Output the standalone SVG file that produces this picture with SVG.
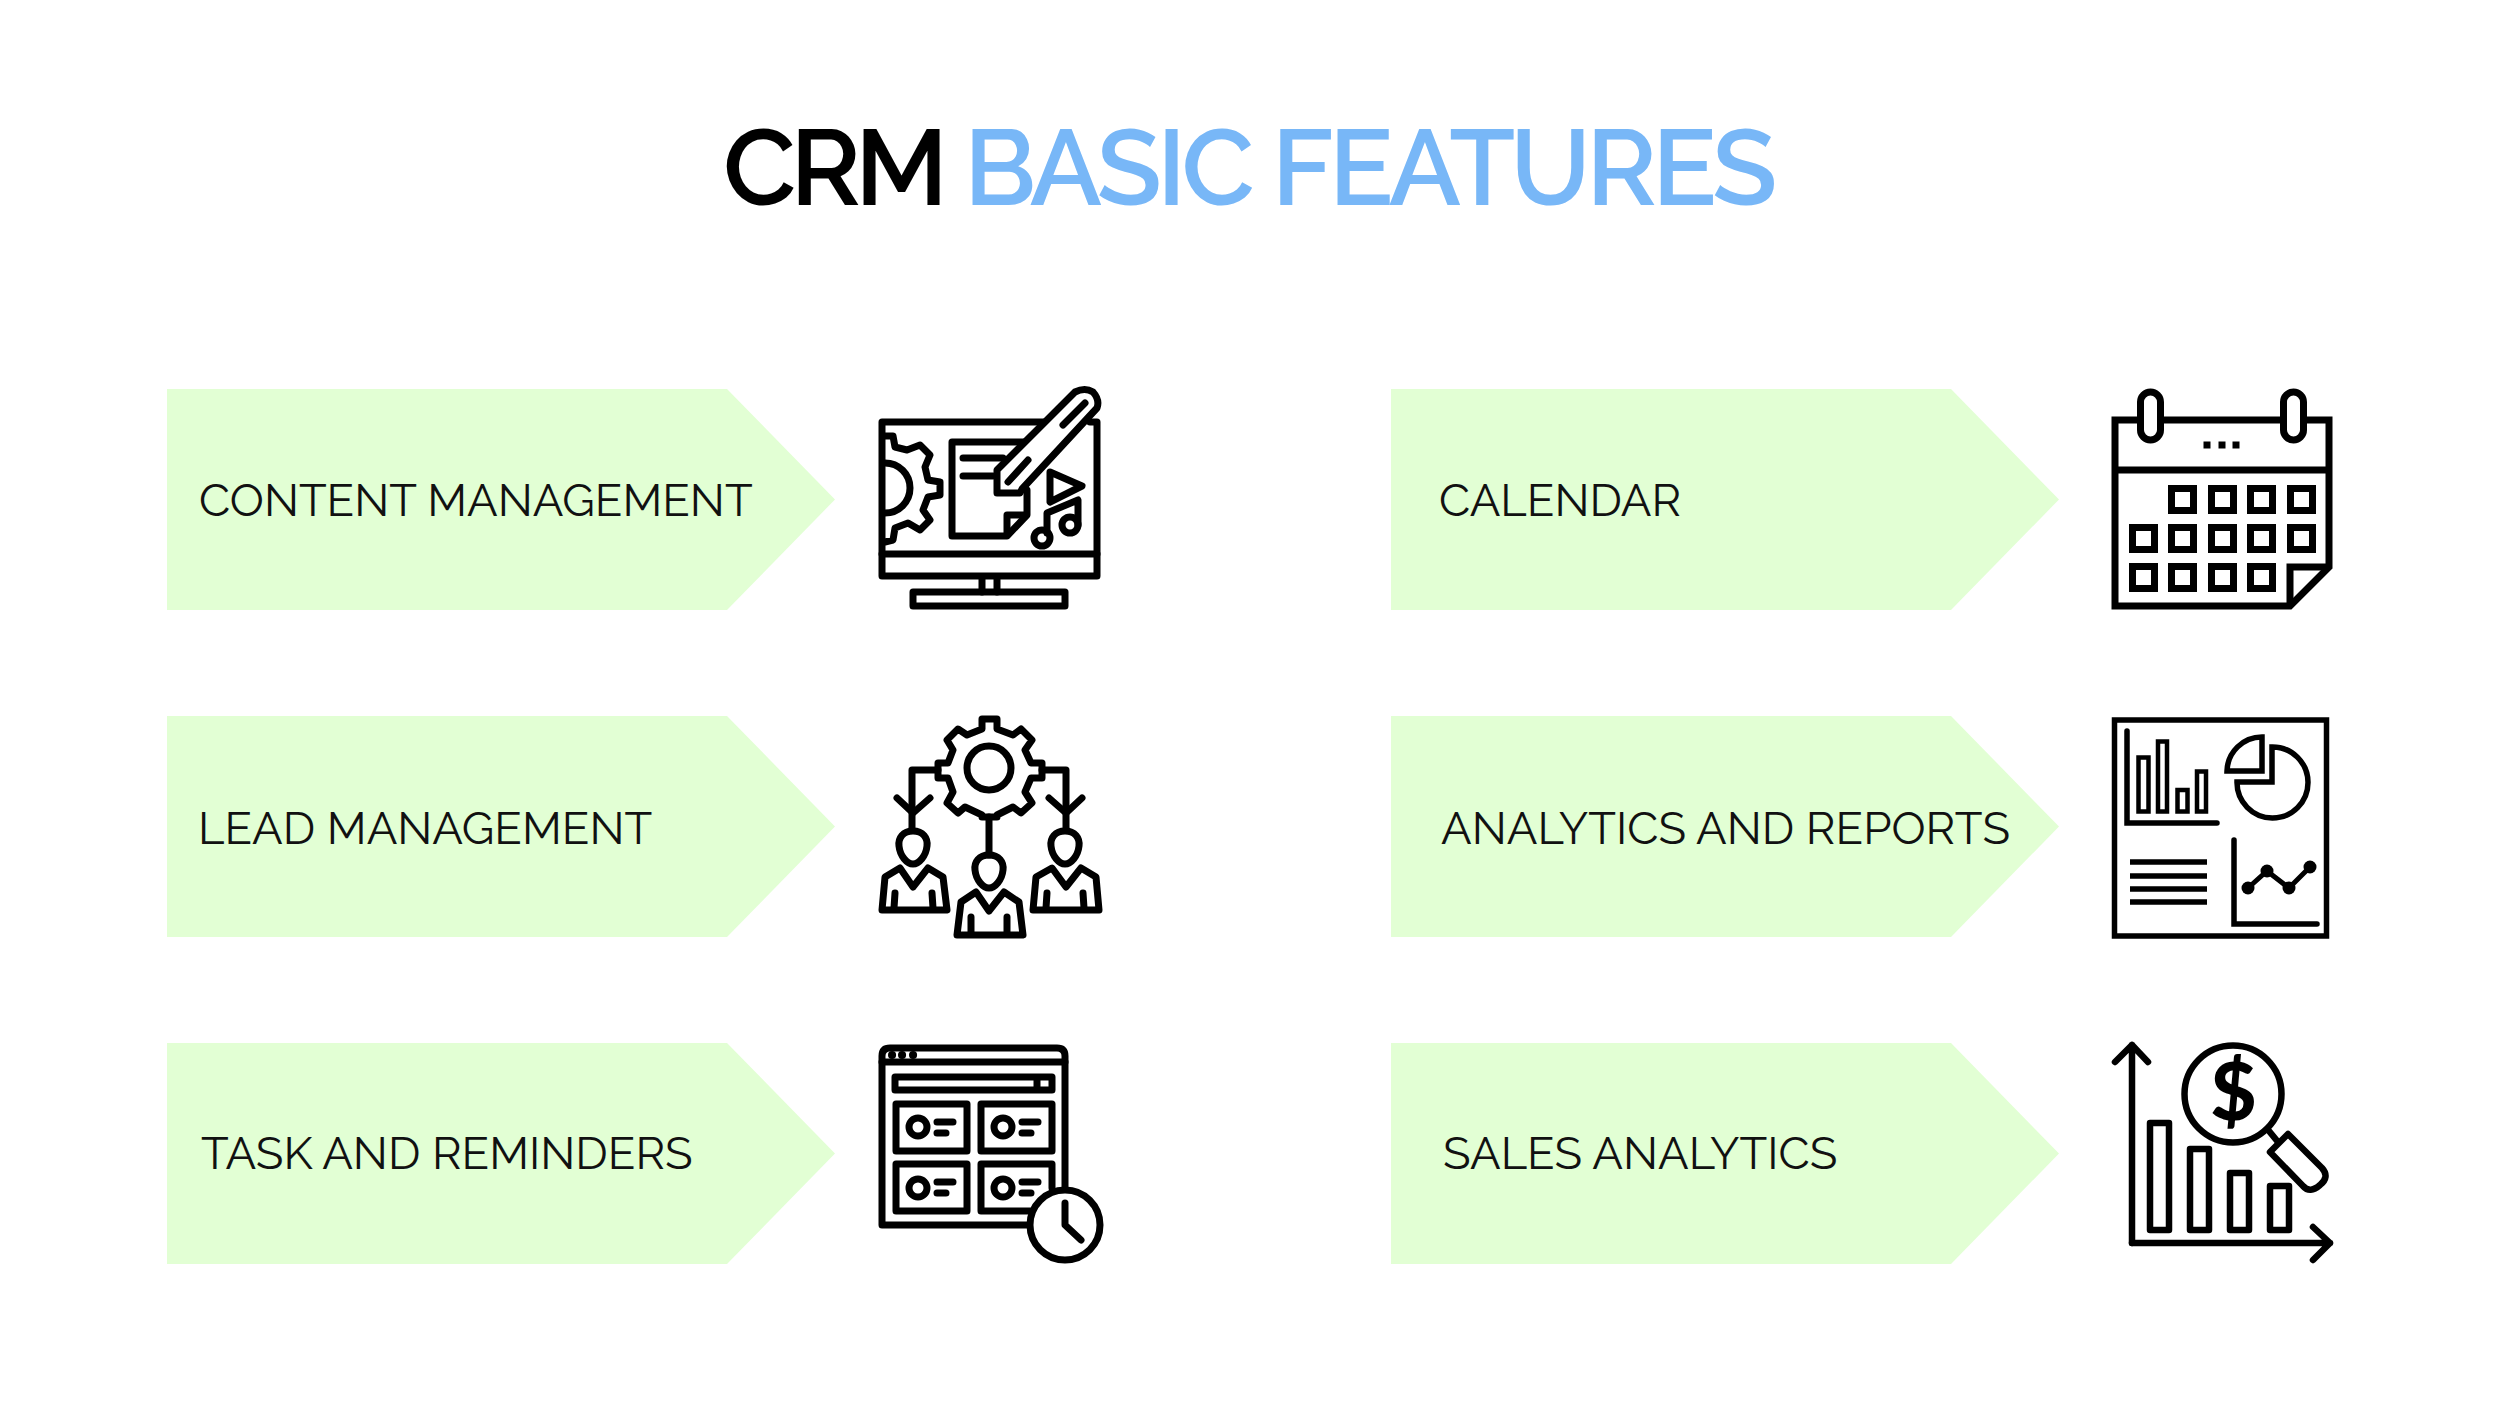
<svg xmlns="http://www.w3.org/2000/svg" width="2500" height="1406" viewBox="0 0 2500 1406">
<defs><style>
.t{font-family:"Raleway","Lato","Noto Sans",sans-serif}
.title{font-size:107px;font-weight:600;letter-spacing:-6px}
.lab{font-size:45.4px;fill:#111}
.arr{fill:#e2ffd4}
.i{fill:none;stroke:#000;stroke-width:7;stroke-linejoin:round;stroke-linecap:round}
.m{stroke-linejoin:miter;stroke-linecap:butt}
</style></defs>
<rect width="2500" height="1406" fill="#fff"/>
<g id="title"><text class="t title" x="723" y="205" fill="#000">CRM</text><text class="t title" x="964" y="205" fill="#78b7f7" style="letter-spacing:-4.700px">BASIC FEATURES</text></g>
<g id="n1"><path class="arr" d="M167 389H727L835 499.500L727 610H167Z"/><text class="t lab" x="199" y="516">CONTENT MANAGEMENT</text></g>
<g id="n2"><path class="arr" d="M167 716H727L835 826.500L727 937H167Z"/><text class="t lab" x="198" y="844">LEAD MANAGEMENT</text></g>
<g id="n3"><path class="arr" d="M167 1043H727L835 1153.500L727 1264H167Z"/><text class="t lab" x="201" y="1169">TASK AND REMINDERS</text></g>
<g id="n4"><path class="arr" d="M1391 389H1951L2059 499.500L1951 610H1391Z"/><text class="t lab" x="1439" y="516">CALENDAR</text></g>
<g id="n5"><path class="arr" d="M1391 716H1951L2059 826.500L1951 937H1391Z"/><text class="t lab" x="1441" y="844">ANALYTICS AND REPORTS</text></g>
<g id="n6"><path class="arr" d="M1391 1043H1951L2059 1153.500L1951 1264H1391Z"/><text class="t lab" x="1443" y="1169">SALES ANALYTICS</text></g>

<g id="icon-content" class="i">
<path d="M1047 422H882V576H1097V422H1090"/><path d="M882 554H1097"/><path d="M982 578V592M997 578V592"/><rect x="913" y="592" width="152" height="14"/>
<path d="M885 436H893L895 447L907 450L920 445L930 455L925 467L928 480L940 482V495L928 497L923 510L930 520L920 530L908 523L895 528L893 540L885 542"/>
<path d="M885 463A25 25 0 0 1 885 513"/>
<path d="M1027 442H952V536H1007L1027 515V490"/><path d="M1007 534V515H1025"/>
<path d="M963 458H1003M963 476H993"/>
<path d="M997 470L1075 392Q1085 387 1093 392Q1100 400 1097 408L1022 489L1020 493H997Z" fill="#fff"/>
<path d="M1008 482L1028 460M1063 425L1085 403"/>
<path d="M1050 472L1082 486L1050 502Z"/>
<path d="M1047 533V513L1078 500V525"/><circle cx="1042" cy="538" r="8"/><circle cx="1070" cy="525" r="8"/>
</g>

<g id="icon-lead" class="i">
<path d="M982 719H997V729L1013 735L1021 729L1032 740L1025 750L1031 763H1042V778H1031L1025 792L1032 803L1021 813L1013 807L997 815V817H982V815L965 807L958 813L947 803L953 792L948 778H938V763H948L953 750L947 740L958 729L967 735L982 729Z"/>
<circle cx="989" cy="768" r="22"/>
<path d="M938 770H912V830M1042 770H1066V830M989 817V855"/>
<path d="M897 798L913 813L930 798M1049 798L1066 813L1082 798"/>
<path d="M913 831C903 831 898 838 899 846C900 856 907 864 913 864C919 864 926 856 927 846C928 838 923 831 913 831Z"/>
<path d="M989 855C979 855 974 862 975 870C976 880 983 888 989 888C995 888 1002 880 1003 870C1004 862 999 855 989 855Z"/>
<path d="M1065 831C1055 831 1050 838 1051 846C1052 856 1059 864 1065 864C1071 864 1078 856 1079 846C1080 838 1075 831 1065 831Z"/>
<path d="M882 910L885 877L900 868L913 887L928 868L943 877L947 910Z"/><path d="M895 893L894 908M932 893L933 908"/>
<path d="M957 935L961 902L976 892L989 911L1004 892L1019 902L1023 935Z"/><path d="M971 917V933M1007 917V933"/>
<path d="M1033 910L1036 877L1052 868L1066 887L1081 868L1096 877L1099 910Z"/><path d="M1047 893L1046 908M1083 893L1084 908"/>
</g>

<g id="icon-task" class="i">
<path d="M1030 1225H882V1056Q882 1048 890 1048H1057Q1065 1048 1065 1056V1188"/><path d="M882 1062H1065"/>
<rect x="895" y="1077" width="157" height="13"/><path d="M1037 1077V1090" style="stroke-linecap:butt"/>
<rect x="896" y="1104" width="71" height="47"/><rect x="981" y="1104" width="71" height="47"/>
<rect x="896" y="1164" width="71" height="47"/><path d="M1030 1211H981V1164H1052V1188"/>
<circle cx="918" cy="1127" r="9"/><circle cx="1003" cy="1127" r="9"/><circle cx="918" cy="1188" r="9"/><circle cx="1003" cy="1188" r="9"/>
<path d="M937 1122H953M937 1133H946M1022 1122H1038M1022 1133H1031M937 1182H953M937 1193H946M1022 1182H1038M1022 1193H1031"/>
<circle cx="1065" cy="1225" r="35" fill="#fff"/><path d="M1065 1203V1225L1081 1240"/>
<path d="M892 1055h.1M902 1055h.1M913 1055h.1" stroke-width="8"/>
</g>

<g id="icon-calendar" class="i m">
<path d="M2137 420H2115V606H2290L2329 567V420H2307M2164 420H2280"/><path d="M2115 470H2329"/>
<rect x="2140.500" y="392" width="20" height="48" rx="10" fill="#fff"/><rect x="2283.500" y="392" width="20" height="48" rx="10" fill="#fff"/>
<path d="M2290 606V567H2329"/>
<rect x="2171.500" y="488.500" width="22" height="22"/><rect x="2211.500" y="488.500" width="22" height="22"/><rect x="2250.500" y="488.500" width="22" height="22"/><rect x="2290.500" y="488.500" width="22" height="22"/>
<rect x="2132.500" y="527.500" width="22" height="22"/><rect x="2171.500" y="527.500" width="22" height="22"/><rect x="2211.500" y="527.500" width="22" height="22"/><rect x="2250.500" y="527.500" width="22" height="22"/><rect x="2290.500" y="527.500" width="22" height="22"/>
<rect x="2132.500" y="566.500" width="22" height="22"/><rect x="2171.500" y="566.500" width="22" height="22"/><rect x="2211.500" y="566.500" width="22" height="22"/><rect x="2250.500" y="566.500" width="22" height="22"/>
<path d="M2203.500 445h7M2218.500 445h7M2232.500 445h7"/>
</g>

<g id="icon-reports" class="i m">
<rect x="2114.500" y="720" width="212" height="216" stroke-width="5.500"/>
<path d="M2127 731V823H2217" stroke-width="5.500" style="stroke-linecap:round"/>
<rect x="2138.500" y="757.500" width="10" height="54" stroke-width="4.500"/><rect x="2158" y="741.500" width="9" height="70" stroke-width="4.500"/><rect x="2177.500" y="790" width="10" height="21.500" stroke-width="4.500"/><rect x="2197" y="771.500" width="9" height="40" stroke-width="4.500"/>
<path d="M2262 737V771H2227A35 35 0 0 1 2262 737Z" stroke-width="5.500"/>
<path d="M2272 747V782H2237A35.500 35.500 0 1 0 2272 747Z" stroke-width="5.500"/>
<path d="M2130 862H2207M2130 876H2207M2130 889H2207M2130 902H2207" stroke-width="5.500"/>
<path d="M2234 840V924H2317" stroke-width="5.500" style="stroke-linecap:round"/>
<path d="M2248 888L2267 871L2289 888L2310 867" stroke-width="5"/>
<circle cx="2248" cy="888" r="6.500" fill="#000" stroke="none"/><circle cx="2267" cy="871" r="6.500" fill="#000" stroke="none"/><circle cx="2289" cy="888" r="6.500" fill="#000" stroke="none"/><circle cx="2310" cy="867" r="6.500" fill="#000" stroke="none"/>
</g>

<g id="icon-sales" class="i" style="stroke-width:6.500">
<path d="M2132 1243V1045M2115 1062L2132 1045L2148 1062"/>
<path d="M2132 1243H2330M2313 1227L2330 1243L2313 1260"/>
<rect x="2150" y="1123" width="19" height="107"/><rect x="2190" y="1149" width="19" height="81"/><rect x="2230" y="1173" width="19" height="57"/><rect x="2270" y="1186" width="19" height="44"/>
<circle cx="2233" cy="1094" r="48.500"/>
<path d="M2269 1131L2278 1142"/>
<path d="M2270 1152L2288 1134L2322 1168Q2330 1177 2320 1185Q2310 1194 2303 1186Z"/>
<text x="2233.500" y="1120" font-family="Lato,sans-serif" font-size="80" font-weight="900" text-anchor="middle" fill="#000" stroke="none">$</text>
</g>
</svg>
